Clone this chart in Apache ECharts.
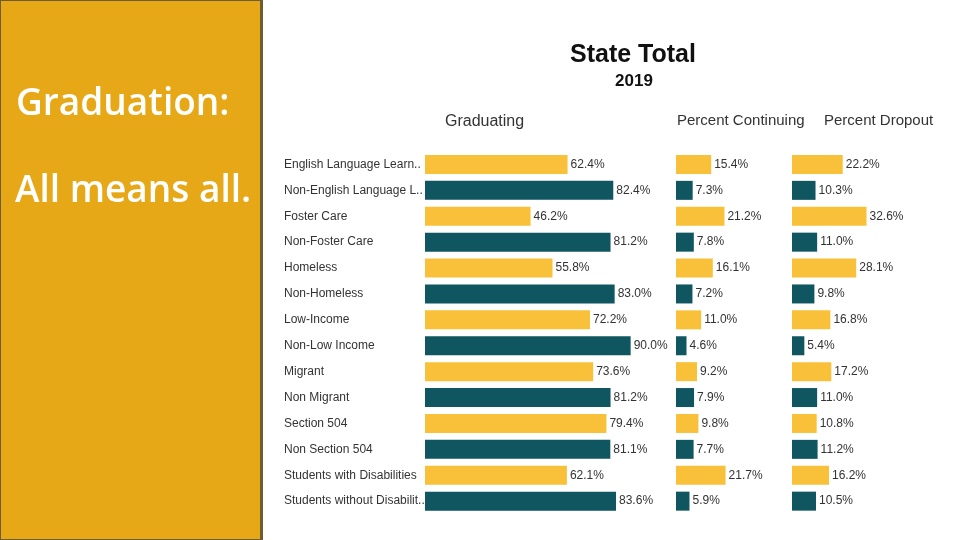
<!DOCTYPE html>
<html><head><meta charset="utf-8">
<script src="https://cdn.jsdelivr.net/npm/echarts@6/dist/echarts.min.js"></script>
<style>html,body{margin:0;padding:0;background:#fff}#c{width:960px;height:540px}</style>
</head><body><div id="c"></div>
<script>
const categories = ['English Language Learners','Non-English Language Learners','Foster Care','Non-Foster Care','Homeless','Non-Homeless','Low-Income','Non-Low Income','Migrant','Non Migrant','Section 504','Non Section 504','Students with Disabilities','Students without Disabilities'];
const graduating = [62.4,82.4,46.2,81.2,55.8,83.0,72.2,90.0,73.6,81.2,79.4,81.1,62.1,83.6];
const continuing = [15.4,7.3,21.2,7.8,16.1,7.2,11.0,4.6,9.2,7.9,9.8,7.7,21.7,5.9];
const dropout = [22.2,10.3,32.6,11.0,28.1,9.8,16.8,5.4,17.2,11.0,10.8,11.2,16.2,10.5];
const colTitles = ['Graduating','Percent Continuing','Percent Dropout'];

const YEL = '#F9C13A', TEAL = '#0F5660';
const scale = 2.285; // px per percent
const gTop = 151.5, gHeight = 362.6;
const grids = [
  {left: 425, max: 100},
  {left: 676, max: 40},
  {left: 792, max: 60}
];
const datas = [graduating, continuing, dropout];

const option = {
  animation: false,
  backgroundColor: '#fff',
  grid: grids.map(g => ({left: g.left, top: gTop, width: g.max*scale, height: gHeight})),
  xAxis: grids.map((g,i) => ({type:'value', gridIndex:i, min:0, max:g.max, show:false})),
  yAxis: grids.map((g,i) => ({
    type:'category', gridIndex:i, data:categories, inverse:true,
    axisLine:{show:false}, axisTick:{show:false}, splitLine:{show:false},
    axisLabel: i===0 ? {show:true, align:'left', margin:141, width:142, overflow:'truncate', ellipsis:'..',
      fontFamily:'Liberation Sans', fontSize:12, color:'#333'} : {show:false}
  })),
  series: datas.map((d,i) => ({
    type:'bar', xAxisIndex:i, yAxisIndex:i, data:d, barWidth:19,
    itemStyle:{color: p => p.dataIndex%2===0 ? YEL : TEAL},
    label:{show:true, position:'right', distance:3, formatter: p => p.value.toFixed(1)+'%',
      fontFamily:'Liberation Sans', fontSize:12, color:'#333'}
  })),
  graphic: [
    {type:'rect', shape:{x:0,y:0,width:263,height:540}, style:{fill:'#6E5C33'}},
    {type:'rect', shape:{x:1,y:1,width:259,height:538}, style:{fill:'#E6A817'}},
    {type:'text', left:16, top:86, style:{text:'Graduation:', fill:'#fff', font:'600 37px "Open Sans"'}},
    {type:'text', left:15, top:173, style:{text:'All means all.', fill:'#fff', font:'600 37px "Open Sans"'}},
    {type:'text', x:633, y:55, style:{text:'State Total', fill:'#111', font:'bold 25px "Liberation Sans"', align:'center', verticalAlign:'middle'}},
    {type:'text', x:634, y:81, style:{text:'2019', fill:'#111', font:'bold 17px "Liberation Sans"', align:'center', verticalAlign:'middle'}},
    {type:'text', x:445, y:122, style:{text:colTitles[0], fill:'#333', font:'16px "Liberation Sans"', verticalAlign:'middle'}},
    {type:'text', x:677, y:121, style:{text:colTitles[1], fill:'#333', font:'15px "Liberation Sans"', verticalAlign:'middle'}},
    {type:'text', x:824, y:121, style:{text:colTitles[2], fill:'#333', font:'15px "Liberation Sans"', verticalAlign:'middle'}}
  ]
};
echarts.init(document.getElementById('c')).setOption(option);
</script></body></html>
